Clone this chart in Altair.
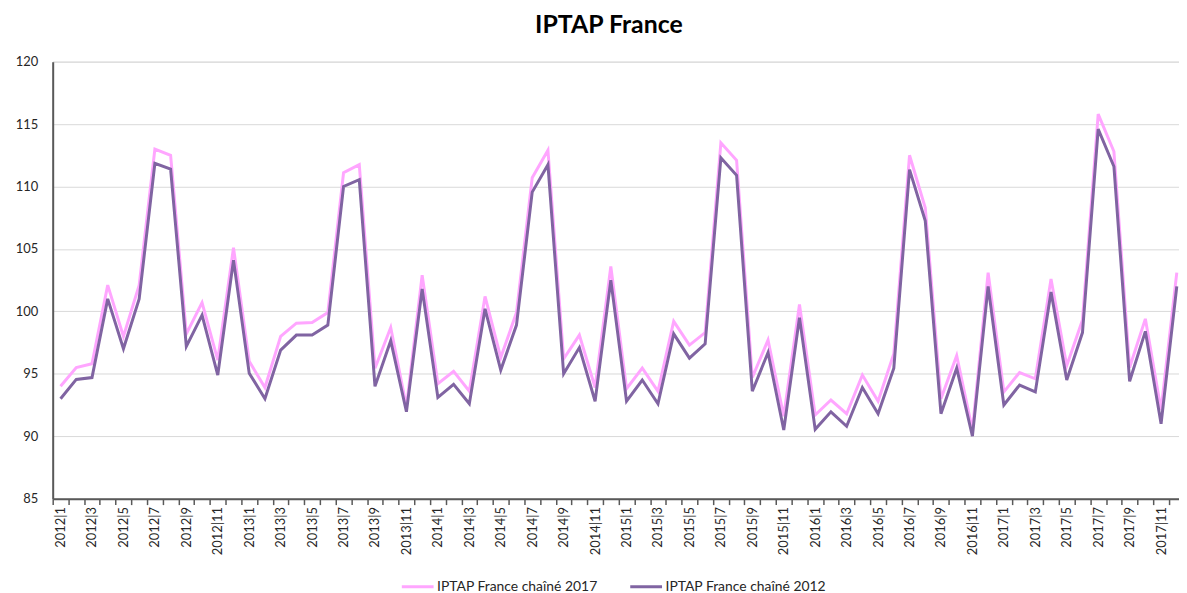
import json
import altair as alt
import pandas as pd

years = [2012, 2013, 2014, 2015, 2016, 2017]
months = list(range(1, 13))
labels = [f"{y}|{m}" for y in years for m in months]

series_names = ["IPTAP France chaîné 2017", "IPTAP France chaîné 2012"]
colors = ["#FFA6FF", "#8064A2"]

chaine_2017 = [94.0, 95.5, 95.8, 102.1, 98.0, 102.1, 113.0, 112.5, 98.2, 100.7, 96.1, 105.1,
               96.0, 93.9, 98.0, 99.05, 99.1, 99.9, 111.1, 111.75, 95.45, 98.7, 92.35, 102.9,
               94.2, 95.2, 93.6, 101.2, 96.3, 99.9, 110.7, 112.9, 96.2, 98.1, 93.9, 103.6,
               93.8, 95.45, 93.6, 99.2, 97.3, 98.3, 113.5, 112.1, 94.7, 97.7, 91.6, 100.55,
               91.7, 92.9, 91.8, 94.9, 92.8, 96.6, 112.5, 108.3, 93.0, 96.45, 90.5, 103.1,
               93.55, 95.1, 94.6, 102.6, 95.65, 99.3, 115.8, 112.8, 95.5, 99.4, 92.1, 103.1]

chaine_2012 = [93.0, 94.55, 94.7, 101.0, 97.0, 101.0, 111.85, 111.4, 97.2, 99.7, 94.9, 104.1,
               95.05, 93.0, 96.9, 98.1, 98.1, 98.9, 110.0, 110.55, 94.0, 97.65, 91.96, 101.8,
               93.1, 94.15, 92.6, 100.2, 95.3, 98.9, 109.55, 111.75, 95.0, 97.1, 92.8, 102.5,
               92.8, 94.5, 92.6, 98.2, 96.25, 97.4, 112.3, 110.9, 93.6, 96.7, 90.5, 99.5,
               90.55, 91.95, 90.8, 93.9, 91.8, 95.45, 111.35, 107.25, 91.8, 95.45, 90.0, 102.0,
               92.5, 94.1, 93.55, 101.55, 94.5, 98.3, 114.6, 111.6, 94.4, 98.4, 91.0, 102.0]

y_ticks = [85, 90, 95, 100, 105, 110, 115, 120]

rows = []
for name, vals in zip(series_names, [chaine_2017, chaine_2012]):
    for i, v in enumerate(vals):
        rows.append({"idx": i, "mois": labels[i], "valeur": v, "serie": name})
df = pd.DataFrame(rows)

n = len(labels)
tick_vals = [i - 0.5 for i in range(n)] + list(range(0, n, 2))
label_expr = f"(datum.value % 2 === 0) ? {json.dumps(labels)}[datum.value] : ''"

FONT = "Lato"
TXT = "#262626"
AX = "#595959"

chart = alt.Chart(df).mark_line(strokeWidth=3, clip=True).encode(
    x=alt.X(
        "idx:Q",
        scale=alt.Scale(domain=[-0.5, 71.14], nice=False, zero=False),
        axis=alt.Axis(
            values=tick_vals, labelExpr=label_expr, labelAngle=270,
            labelAlign="right", labelBaseline="middle", labelPadding=2,
            tickSize=6, tickColor=AX, tickWidth=1.5,
            tickOpacity={"condition": {"test": "datum.value % 1 === 0", "value": 0}, "value": 1},
            domainColor=AX, domainWidth=2, grid=False, title=None,
            labelOverlap=False, labelFont=FONT, labelFontSize=13, labelColor=TXT,
            labelBound=False, labelFlush=False,
        ),
    ),
    y=alt.Y(
        "valeur:Q",
        scale=alt.Scale(domain=[85, 120], nice=False, zero=False),
        axis=alt.Axis(
            values=y_ticks, title=None, grid=True, gridColor="#D9D9D9", gridWidth=1,
            domainColor=AX, domainWidth=2, ticks=False, labelPadding=15,
            labelFont=FONT, labelFontSize=13, labelColor=TXT,
        ),
    ),
    color=alt.Color(
        "serie:N",
        scale=alt.Scale(domain=series_names, range=colors),
        sort=series_names,
        legend=alt.Legend(
            title=None, orient="none", legendX=350, legendY=511, direction="horizontal",
            symbolType="stroke", symbolSize=1024, symbolStrokeWidth=3,
            labelFont=FONT, labelFontSize=14, labelColor=TXT, labelOffset=2,
            labelLimit=400, columnPadding=26,
        ),
    ),
).properties(
    width=1134,
    height=440,
    title=alt.TitleParams("IPTAP France", font=FONT, fontSize=25, fontWeight="bold",
                          color="#000000", anchor="middle", dx=-7, offset=18),
    autosize=alt.AutoSizeParams(type="none"),
    padding={"left": 45, "top": 52, "right": 0, "bottom": 93},
).configure_view(stroke=None).configure(background="white")

chart.save("out.html", embed_options={"renderer": "svg", "actions": False})
